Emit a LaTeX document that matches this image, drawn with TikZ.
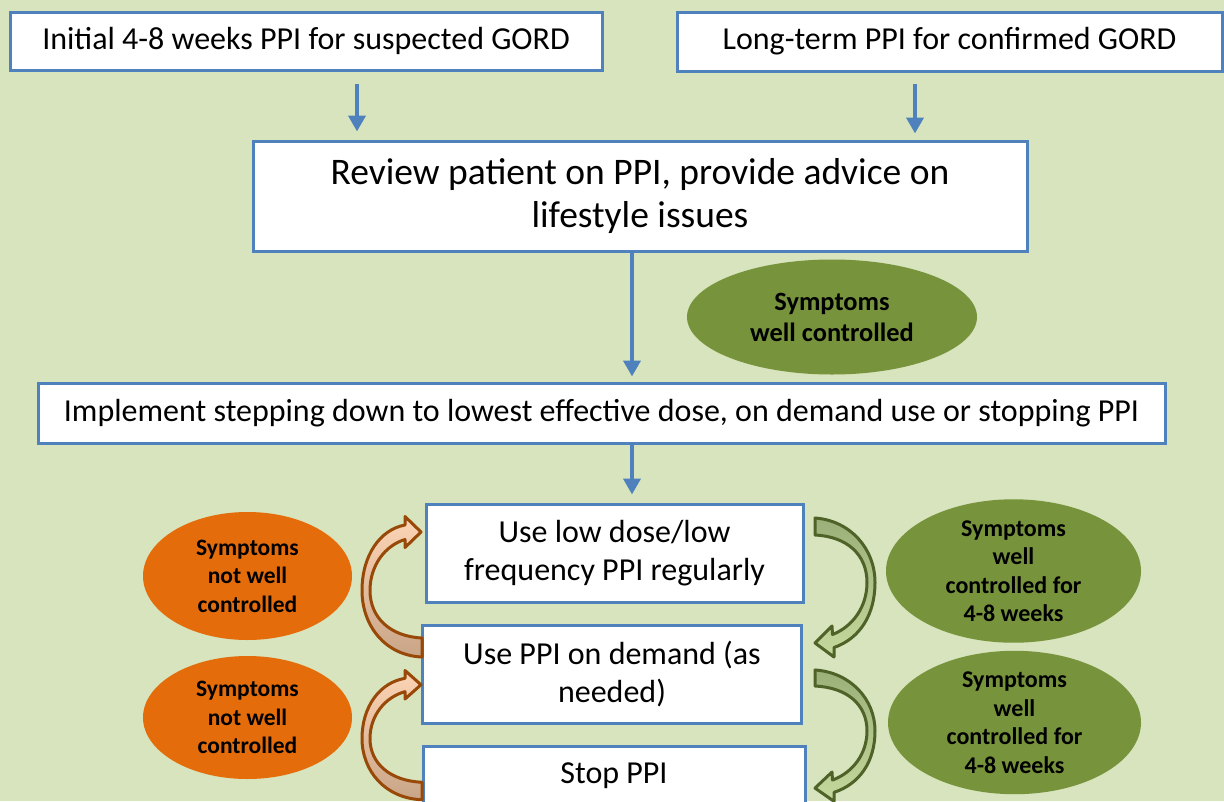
\documentclass[tikz,border=0pt]{standalone}
\usepackage{fontspec}
\setmainfont{Carlito}
\usetikzlibrary{shapes.geometric,arrows.meta,calc}
\definecolor{bg}{HTML}{D7E4BD}
\definecolor{boxblue}{HTML}{4F81BD}
\definecolor{olivefill}{HTML}{77933C}
\definecolor{orangefill}{HTML}{E46C0A}
\definecolor{brownline}{HTML}{984807}
\definecolor{peach}{HTML}{FCD5B5}
\definecolor{tanfill}{HTML}{C9A588}
\definecolor{darkolive}{HTML}{4F6228}
\definecolor{greyolive}{HTML}{9BAF7A}
\definecolor{lightolive}{HTML}{C5D89C}
\begin{document}
\begin{tikzpicture}[x=1pt,y=-1pt,
  box/.style={draw=boxblue,line width=3pt,fill=white,rectangle,inner sep=0pt,align=center,font=\fontsize{32}{38}\selectfont},
  barrow/.style={draw=boxblue,line width=4.5pt,-{Triangle[width=17pt,length=16pt]}},
  ell/.style={ellipse,inner sep=0pt,align=center,font=\bfseries\fontsize{23.5}{28.5}\selectfont},
  greenell/.style={ell,fill=olivefill},
  orangeell/.style={ell,fill=orangefill},
  orangecurve/.style={draw=brownline,line width=3pt,line join=round,top color=peach,bottom color=tanfill},
  greencurve/.style={draw=darkolive,line width=3pt,line join=round,top color=greyolive,bottom color=lightolive}
]
\fill[bg] (0,0) rectangle (1224,801);
\useasboundingbox (0,0) rectangle (1224,801);

% boxes
\node[box,minimum width=592pt,minimum height=58pt] (A) at (306,41) {Initial 4-8 weeks PPI for suspected GORD};
\node[box,minimum width=545pt,minimum height=59pt] (B) at (949.5,41.5) {Long-term PPI for confirmed GORD};
\node[box,minimum width=774pt,minimum height=110pt,font=\fontsize{37.5}{43}\selectfont] (C) at (640,196) {Review patient on PPI, provide advice on\\lifestyle issues};
\node[box,minimum width=1127pt,minimum height=60pt] (D) at (601.5,413) {Implement stepping down to lowest effective dose, on demand use or stopping PPI};
\node[box,minimum width=377pt,minimum height=98pt] (E) at (614.5,553) {Use low dose/low\\frequency PPI regularly};
\node[box,minimum width=379pt,minimum height=98pt] (F) at (612,674) {Use PPI on demand (as\\needed)};
\node[box,minimum width=382pt,minimum height=60pt] (G) at (614,776) {Stop PPI};

% ellipses
\node[greenell,minimum width=290pt,minimum height=115pt,font=\bfseries\fontsize{26.4}{31}\selectfont] (S1) at (832,317) {Symptoms\\well controlled};
\node[orangeell,minimum width=209pt,minimum height=128pt] (O1) at (247.5,576) {Symptoms\\not well\\controlled};
\node[orangeell,minimum width=209pt,minimum height=123pt] (O2) at (247.5,717.5) {Symptoms\\not well\\controlled};
\node[greenell,minimum width=255pt,minimum height=134pt,font=\bfseries\fontsize{24}{28.5}\selectfont] (W1) at (1013.5,571) {Symptoms\\well\\controlled for\\4-8 weeks};
\node[greenell,minimum width=253pt,minimum height=133pt,font=\bfseries\fontsize{24}{28.5}\selectfont] (W2) at (1014.5,722.5) {Symptoms\\well\\controlled for\\4-8 weeks};

% blue arrows
\draw[barrow] ($(A.south)+(51,12)$) -- ($(C.north)+(-283,-8)$);
\draw[barrow] ($(B.south)+(-34.5,11)$) -- ($(C.north)+(275,-6)$);
\draw[barrow] ($(C.south)+(-8,0)$) -- ($(D.north)+(30.5,-5)$);
\draw[barrow] ($(D.south)+(30.5,0)$) -- ($(E.north)+(17.5,-8)$);

% orange curved arrows (up)
\begin{scope}[shift={(422,647.5)}]
\path[orangecurve] (0,9.5) .. controls (-37,8) and (-60,-22) .. (-60,-57)
  .. controls (-60,-92) and (-42,-118) .. (-17,-122.5)
  -- (-17,-131) -- (-1,-115.5) -- (-17,-100) -- (-17,-108)
  .. controls (-37,-102) and (-52,-82) .. (-52,-57)
  .. controls (-52,-30) and (-32,-11) .. (0,-9.5) -- cycle;
\end{scope}
\begin{scope}[shift={(422,791)},yscale=0.92]
\path[orangecurve] (0,9.5) .. controls (-37,8) and (-60,-22) .. (-60,-57)
  .. controls (-60,-92) and (-42,-118) .. (-17,-122.5)
  -- (-17,-131) -- (-1,-115.5) -- (-17,-100) -- (-17,-108)
  .. controls (-37,-102) and (-52,-82) .. (-52,-57)
  .. controls (-52,-30) and (-32,-11) .. (0,-9.5) -- cycle;
\end{scope}

% green curved arrows (down)
\begin{scope}[shift={(815,526.5)}]
\path[greencurve] (0,-8.5) .. controls (35,-6) and (60,22) .. (60,56)
  .. controls (60,88) and (45,112) .. (19,121)
  -- (19,130.5) -- (0,116.5) -- (17,99.5) -- (17.5,108)
  .. controls (38,100) and (52,80) .. (52,56)
  .. controls (52,28) and (32,10) .. (0,8.5) -- cycle;
\end{scope}
\begin{scope}[shift={(815,678)},yscale=0.945]
\path[greencurve] (0,-8.5) .. controls (35,-6) and (60,22) .. (60,56)
  .. controls (60,88) and (45,112) .. (19,121)
  -- (19,130.5) -- (0,116.5) -- (17,99.5) -- (17.5,108)
  .. controls (38,100) and (52,80) .. (52,56)
  .. controls (52,28) and (32,10) .. (0,8.5) -- cycle;
\end{scope}
\end{tikzpicture}
\end{document}
